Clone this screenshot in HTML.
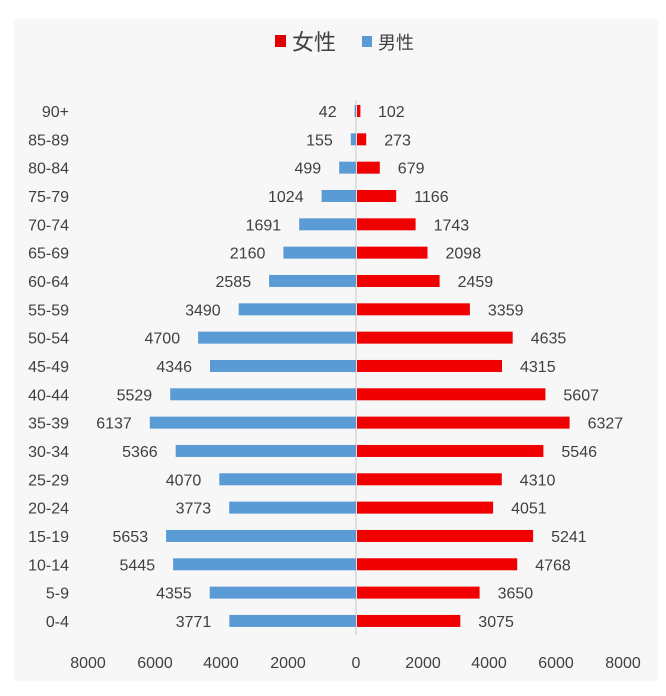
<!DOCTYPE html>
<html><head><meta charset="utf-8"><style>
body{margin:0;background:#fff;}
svg text{font-family:"Liberation Sans","Noto Sans CJK SC",sans-serif;fill:#404040;}
.m{fill:#5b9bd5}.f{fill:#f00000}
</style></head><body>
<svg width="666" height="691" xmlns="http://www.w3.org/2000/svg">
<rect x="14" y="19" width="644" height="662" fill="#f7f7f7"/>
<rect x="275" y="35" width="11" height="12" fill="#e00000"/>
<text x="292" y="50" font-size="22" fill="#555">女性</text>
<rect x="362" y="36" width="10" height="11" fill="#5b9bd5"/>
<text x="378" y="49" font-size="18" fill="#555">男性</text>
<line x1="356" y1="100" x2="356" y2="635" stroke="#c8c8c8" stroke-width="1"/>
<g font-size="16">
<g transform="translate(0,111)"><rect class="m" x="354.6" y="-6" width="1.4" height="12"/><rect class="f" x="357" y="-6" width="3.4" height="12"/><text x="69" y="6" text-anchor="end">90+</text><text x="336.6" y="6" text-anchor="end">42</text><text x="378" y="6">102</text></g>
<g transform="translate(0,139.33)"><rect class="m" x="350.8" y="-6" width="5.2" height="12"/><rect class="f" x="357" y="-6" width="9.2" height="12"/><text x="69" y="6" text-anchor="end">85-89</text><text x="332.8" y="6" text-anchor="end">155</text><text x="384.2" y="6">273</text></g>
<g transform="translate(0,167.66)"><rect class="m" x="339.2" y="-6" width="16.8" height="12"/><rect class="f" x="357" y="-6" width="22.8" height="12"/><text x="69" y="6" text-anchor="end">80-84</text><text x="321.2" y="6" text-anchor="end">499</text><text x="397.8" y="6">679</text></g>
<g transform="translate(0,195.99)"><rect class="m" x="321.6" y="-6" width="34.4" height="12"/><rect class="f" x="357" y="-6" width="39.2" height="12"/><text x="69" y="6" text-anchor="end">75-79</text><text x="303.6" y="6" text-anchor="end">1024</text><text x="414.2" y="6">1166</text></g>
<g transform="translate(0,224.32)"><rect class="m" x="299.2" y="-6" width="56.8" height="12"/><rect class="f" x="357" y="-6" width="58.6" height="12"/><text x="69" y="6" text-anchor="end">70-74</text><text x="281.2" y="6" text-anchor="end">1691</text><text x="433.6" y="6">1743</text></g>
<g transform="translate(0,252.65)"><rect class="m" x="283.4" y="-6" width="72.6" height="12"/><rect class="f" x="357" y="-6" width="70.5" height="12"/><text x="69" y="6" text-anchor="end">65-69</text><text x="265.4" y="6" text-anchor="end">2160</text><text x="445.5" y="6">2098</text></g>
<g transform="translate(0,280.98)"><rect class="m" x="269.1" y="-6" width="86.9" height="12"/><rect class="f" x="357" y="-6" width="82.6" height="12"/><text x="69" y="6" text-anchor="end">60-64</text><text x="251.1" y="6" text-anchor="end">2585</text><text x="457.6" y="6">2459</text></g>
<g transform="translate(0,309.31)"><rect class="m" x="238.7" y="-6" width="117.3" height="12"/><rect class="f" x="357" y="-6" width="112.9" height="12"/><text x="69" y="6" text-anchor="end">55-59</text><text x="220.7" y="6" text-anchor="end">3490</text><text x="487.9" y="6">3359</text></g>
<g transform="translate(0,337.64)"><rect class="m" x="198.1" y="-6" width="157.9" height="12"/><rect class="f" x="357" y="-6" width="155.7" height="12"/><text x="69" y="6" text-anchor="end">50-54</text><text x="180.1" y="6" text-anchor="end">4700</text><text x="530.7" y="6">4635</text></g>
<g transform="translate(0,365.97)"><rect class="m" x="210" y="-6" width="146" height="12"/><rect class="f" x="357" y="-6" width="145" height="12"/><text x="69" y="6" text-anchor="end">45-49</text><text x="192" y="6" text-anchor="end">4346</text><text x="520" y="6">4315</text></g>
<g transform="translate(0,394.3)"><rect class="m" x="170.2" y="-6" width="185.8" height="12"/><rect class="f" x="357" y="-6" width="188.4" height="12"/><text x="69" y="6" text-anchor="end">40-44</text><text x="152.2" y="6" text-anchor="end">5529</text><text x="563.4" y="6">5607</text></g>
<g transform="translate(0,422.63)"><rect class="m" x="149.8" y="-6" width="206.2" height="12"/><rect class="f" x="357" y="-6" width="212.6" height="12"/><text x="69" y="6" text-anchor="end">35-39</text><text x="131.8" y="6" text-anchor="end">6137</text><text x="587.6" y="6">6327</text></g>
<g transform="translate(0,450.96)"><rect class="m" x="175.7" y="-6" width="180.3" height="12"/><rect class="f" x="357" y="-6" width="186.4" height="12"/><text x="69" y="6" text-anchor="end">30-34</text><text x="157.7" y="6" text-anchor="end">5366</text><text x="561.4" y="6">5546</text></g>
<g transform="translate(0,479.29)"><rect class="m" x="219.3" y="-6" width="136.7" height="12"/><rect class="f" x="357" y="-6" width="144.8" height="12"/><text x="69" y="6" text-anchor="end">25-29</text><text x="201.3" y="6" text-anchor="end">4070</text><text x="519.8" y="6">4310</text></g>
<g transform="translate(0,507.62)"><rect class="m" x="229.2" y="-6" width="126.8" height="12"/><rect class="f" x="357" y="-6" width="136.1" height="12"/><text x="69" y="6" text-anchor="end">20-24</text><text x="211.2" y="6" text-anchor="end">3773</text><text x="511.1" y="6">4051</text></g>
<g transform="translate(0,535.95)"><rect class="m" x="166.1" y="-6" width="189.9" height="12"/><rect class="f" x="357" y="-6" width="176.1" height="12"/><text x="69" y="6" text-anchor="end">15-19</text><text x="148.1" y="6" text-anchor="end">5653</text><text x="551.1" y="6">5241</text></g>
<g transform="translate(0,564.28)"><rect class="m" x="173.1" y="-6" width="182.9" height="12"/><rect class="f" x="357" y="-6" width="160.2" height="12"/><text x="69" y="6" text-anchor="end">10-14</text><text x="155.1" y="6" text-anchor="end">5445</text><text x="535.2" y="6">4768</text></g>
<g transform="translate(0,592.61)"><rect class="m" x="209.7" y="-6" width="146.3" height="12"/><rect class="f" x="357" y="-6" width="122.6" height="12"/><text x="69" y="6" text-anchor="end">5-9</text><text x="191.7" y="6" text-anchor="end">4355</text><text x="497.6" y="6">3650</text></g>
<g transform="translate(0,620.94)"><rect class="m" x="229.3" y="-6" width="126.7" height="12"/><rect class="f" x="357" y="-6" width="103.3" height="12"/><text x="69" y="6" text-anchor="end">0-4</text><text x="211.3" y="6" text-anchor="end">3771</text><text x="478.3" y="6">3075</text></g>
</g>
<g font-size="16" text-anchor="middle">
<text x="88" y="668">8000</text><text x="155" y="668">6000</text><text x="221" y="668">4000</text><text x="288" y="668">2000</text><text x="356" y="668">0</text><text x="423" y="668">2000</text><text x="489" y="668">4000</text><text x="556" y="668">6000</text><text x="623" y="668">8000</text>
</g>
</svg>
</body></html>
